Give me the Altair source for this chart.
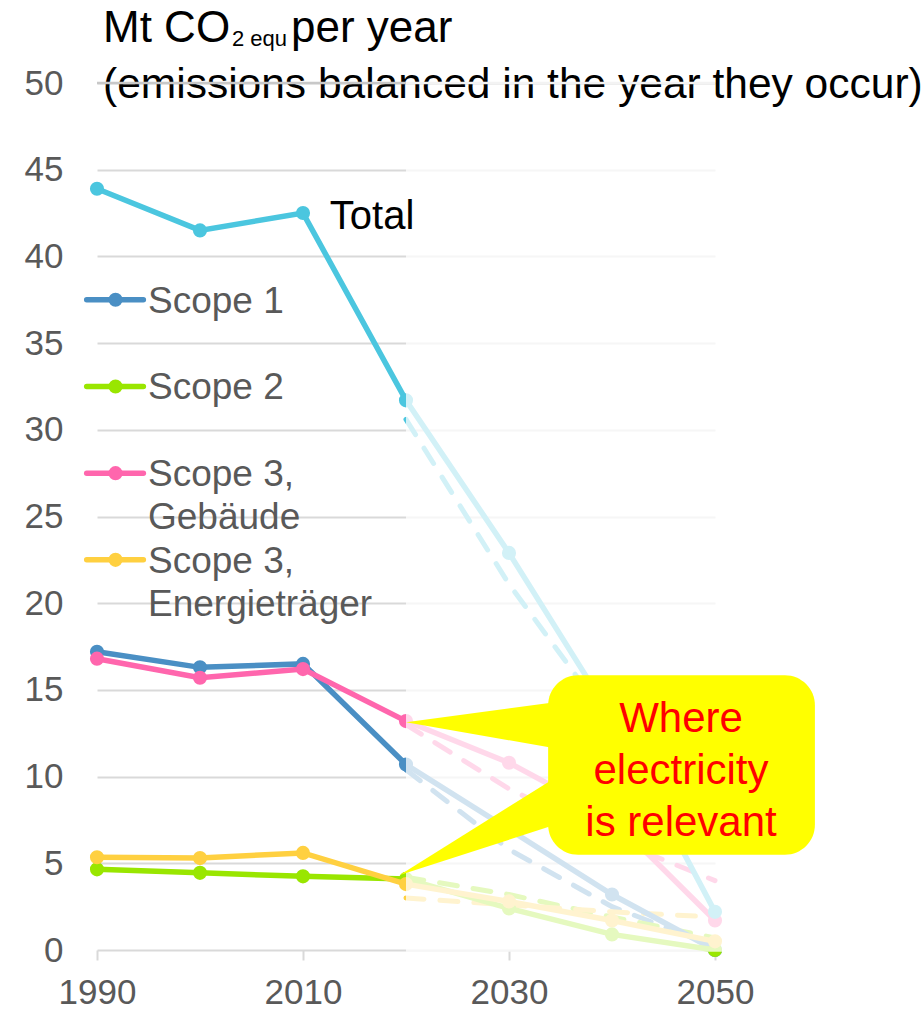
import altair as alt
import pandas as pd

# ---- data -------------------------------------------------------------
years = [1990, 2000, 2010, 2020, 2030, 2040, 2050]

series_names = ["Scope 1", "Scope 2", "Scope 3, Gebäude", "Scope 3, Energieträger", "Total"]

# Reported / projected emissions (Mt CO2-equ per year)
scope1 = [17.2, 16.3, 16.5, 10.7, None, 3.2, 0.0]
scope2 = [4.65, 4.45, 4.25, 4.1, 2.4, 0.9, 0.0]
scope3_buildings = [16.8, 15.7, 16.2, 13.2, 10.8, 7.6, 1.7]
scope3_energy = [5.35, 5.3, 5.6, 3.8, 2.8, 1.7, 0.5]
total = [43.9, 41.5, 42.5, 31.7, 22.9, 13.4, 2.2]

# Reduction paths 2020-2050 (dashed)
path_years = [2020, 2030, 2040, 2050]
path_scope1 = [10.4, 5.8, 2.5, 0.2]
path_scope2 = [4.2, 3.2, 1.9, 0.7]
path_buildings = [13.0, 9.3, 6.4, 4.0]
path_energy = [3.0, 2.6, 2.2, 1.9]
path_total = [30.6, 21.1, 13.0, 6.8]

legend_labels = ["Scope 1", "Scope 2", "Scope 3,\nGebäude", "Scope 3,\nEnergieträger"]
callout_text = "Where\nelectricity\nis relevant"

# ---- styling ----------------------------------------------------------
colors = {
    "Scope 1": "#4a8fc4",
    "Scope 2": "#99e600",
    "Scope 3, Gebäude": "#ff66ad",
    "Scope 3, Energieträger": "#ffd040",
    "Total": "#4bc6df",
}
FONT = "Liberation Sans"
GRAY = "#595959"
GRID = "#d9d9d9"
GRID_TOP = "#c8c8c8"
GRID_FADED = "#f3f3f3"

solid = {
    "Scope 1": scope1,
    "Scope 2": scope2,
    "Scope 3, Gebäude": scope3_buildings,
    "Scope 3, Energieträger": scope3_energy,
    "Total": total,
}
dashed = {
    "Scope 1": path_scope1,
    "Scope 2": path_scope2,
    "Scope 3, Gebäude": path_buildings,
    "Scope 3, Energieträger": path_energy,
    "Total": path_total,
}

xs = alt.Scale(domain=[1990, 2050], nice=False, zero=False)
ys = alt.Scale(domain=[0, 50], nice=False, zero=True)

x_axis = alt.Axis(
    values=[1990, 2010, 2030, 2050], format="d", title=None, grid=False,
    domain=False, ticks=True, tickSize=10, tickColor=GRID, tickWidth=2,
    labelFontSize=35, labelColor=GRAY, labelPadding=15, labelFont=FONT,
    labelFlush=False, labelOverlap=False,
)
y_axis = alt.Axis(
    values=list(range(0, 51, 5)), title=None, grid=True, gridColor=GRID,
    gridWidth=2, domain=False, ticks=False, labelFontSize=35, labelColor=GRAY,
    labelPadding=34, labelFont=FONT, labelFlush=False, labelOverlap=False,
)


def X(field="year"):
    return alt.X(f"{field}:Q", scale=xs, axis=x_axis)


def Y(field="value"):
    return alt.Y(f"{field}:Q", scale=ys, axis=y_axis)


layers = []

# dashed reduction paths
for name in series_names:
    df = pd.DataFrame({"year": path_years, "value": dashed[name]})
    layers.append(
        alt.Chart(df).mark_line(
            color=colors[name], strokeWidth=5, strokeDash=[18, 16], strokeCap="round"
        ).encode(x=X(), y=Y())
    )

# solid emission lines with markers
for name in series_names:
    df = pd.DataFrame({"year": years, "value": solid[name]}).dropna()
    layers.append(
        alt.Chart(df).mark_line(
            color=colors[name], strokeWidth=5.5,
            point=alt.OverlayMarkDef(filled=True, size=200, color=colors[name], opacity=1),
        ).encode(x=X(), y=Y())
    )

# fade everything from 2020 onwards
fade = pd.DataFrame({"x": [2020], "x2": [2052], "y": [-0.1], "y2": [49.5]})
layers.append(
    alt.Chart(fade).mark_rect(color="white", opacity=0.75).encode(
        x=X("x"), x2="x2:Q", y=Y("y"), y2="y2:Q"
    )
)

# "Total" label
layers.append(
    alt.Chart(pd.DataFrame({"year": [2012.6], "value": [42.25], "t": ["Total"]}))
    .mark_text(align="left", baseline="middle", fontSize=40, font=FONT, color="black")
    .encode(x=X(), y=Y(), text="t:N")
)

# legend (line + dot + label), placed inside the plot
leg_rows = [37.5, 32.5, 27.5, 22.5]
for name, lab, ry in zip(series_names[:4], legend_labels, leg_rows):
    seg = pd.DataFrame({"year": [1989.0, 1994.5], "value": [ry, ry]})
    layers.append(
        alt.Chart(seg).mark_line(color=colors[name], strokeWidth=5.5, strokeCap="round")
        .encode(x=X(), y=Y())
    )
    layers.append(
        alt.Chart(pd.DataFrame({"year": [1991.8], "value": [ry]}))
        .mark_point(filled=True, size=200, color=colors[name], opacity=1)
        .encode(x=X(), y=Y())
    )
    layers.append(
        alt.Chart(pd.DataFrame({"year": [1994.95], "value": [ry], "t": [lab]}))
        .mark_text(align="left", baseline="top", dy=-16, fontSize=37, font=FONT,
                   color=GRAY, lineBreak="\n", lineHeight=43)
        .encode(x=X(), y=Y(), text="t:N")
    )

# callout bubble with two pointers
box = pd.DataFrame({"x": [2033.8], "x2": [2059.7], "y": [5.5], "y2": [15.85]})


def pointer(tag, apex, top, bottom, base_x=2033.8, inside=1.2):
    # triangle from apex to the bubble's left edge, pushed slightly inside it
    ax, ay = apex
    k = (base_x + inside - ax) / (base_x - ax)
    return pd.DataFrame({
        "p": [tag, tag],
        "year": [ax, base_x + inside],
        "lo": [ay, ay + (bottom - ay) * k],
        "hi": [ay, ay + (top - ay) * k],
    })


ptr = pd.concat([
    pointer("a", (2020.0, 13.14), 14.24, 11.70),
    pointer("b", (2019.4, 4.32), 9.68, 7.09),
])
layers.append(
    alt.Chart(ptr).mark_area(color="#ffff00", opacity=1).encode(
        x=X(), y=Y("lo"), y2="hi:Q", detail="p:N"
    )
)
layers.append(
    alt.Chart(box).mark_rect(color="#ffff00", cornerRadius=30, opacity=1).encode(
        x=X("x"), x2="x2:Q", y=Y("y"), y2="y2:Q"
    )
)
layers.append(
    alt.Chart(pd.DataFrame({"year": [2046.7], "value": [13.43], "t": [callout_text]}))
    .mark_text(align="center", baseline="top", dy=-18, fontSize=42, font=FONT,
               color="#ff0000", lineBreak="\n", lineHeight=52)
    .encode(x=X(), y=Y(), text="t:N")
)

# unit title above the plot
layers.append(
    alt.Chart(pd.DataFrame({"t": ["Mt CO"]})).mark_text(
        align="left", baseline="alphabetic", fontSize=44, font=FONT, color="black"
    ).encode(text="t:N", x=alt.value(6), y=alt.value(-41))
)
layers.append(
    alt.Chart(pd.DataFrame({"t": ["2 equ"]})).mark_text(
        align="left", baseline="alphabetic", fontSize=22, font=FONT, color="black"
    ).encode(text="t:N", x=alt.value(135), y=alt.value(-37))
)
layers.append(
    alt.Chart(pd.DataFrame({"t": ["per year"]})).mark_text(
        align="left", baseline="alphabetic", fontSize=44, font=FONT, color="black"
    ).encode(text="t:N", x=alt.value(194), y=alt.value(-41))
)
layers.append(
    alt.Chart(pd.DataFrame({"t": ["(emissions balanced in the year they occur)"]})).mark_text(
        align="left", baseline="alphabetic", fontSize=42.5, font=FONT, color="black"
    ).encode(text="t:N", x=alt.value(6), y=alt.value(15))
)

# top gridline at the end of the value range, drawn over the heading text
top_rule = pd.DataFrame({
    "year": [1990, 2020], "year2": [2020, 2050], "value": [50, 50],
    "part": ["past", "future"],
})
layers.append(
    alt.Chart(top_rule).mark_rule(strokeWidth=2.5)
    .encode(
        x=X(), x2="year2:Q", y=Y(),
        color=alt.Color("part:N", scale=alt.Scale(domain=["past", "future"],
                                                   range=[GRID_TOP, GRID_FADED]),
                        legend=None),
    )
)

chart = (
    alt.layer(*layers)
    .properties(
        width=618, height=867,
        padding={"left": 97, "top": 83, "right": 209, "bottom": 59},
        autosize=alt.AutoSizeParams(type="none"),
        background="white",
    )
    .configure(font=FONT)
    .configure_view(strokeWidth=0, stroke="transparent")
)

chart.save("out.html", embed_options={"renderer": "svg", "actions": False})
